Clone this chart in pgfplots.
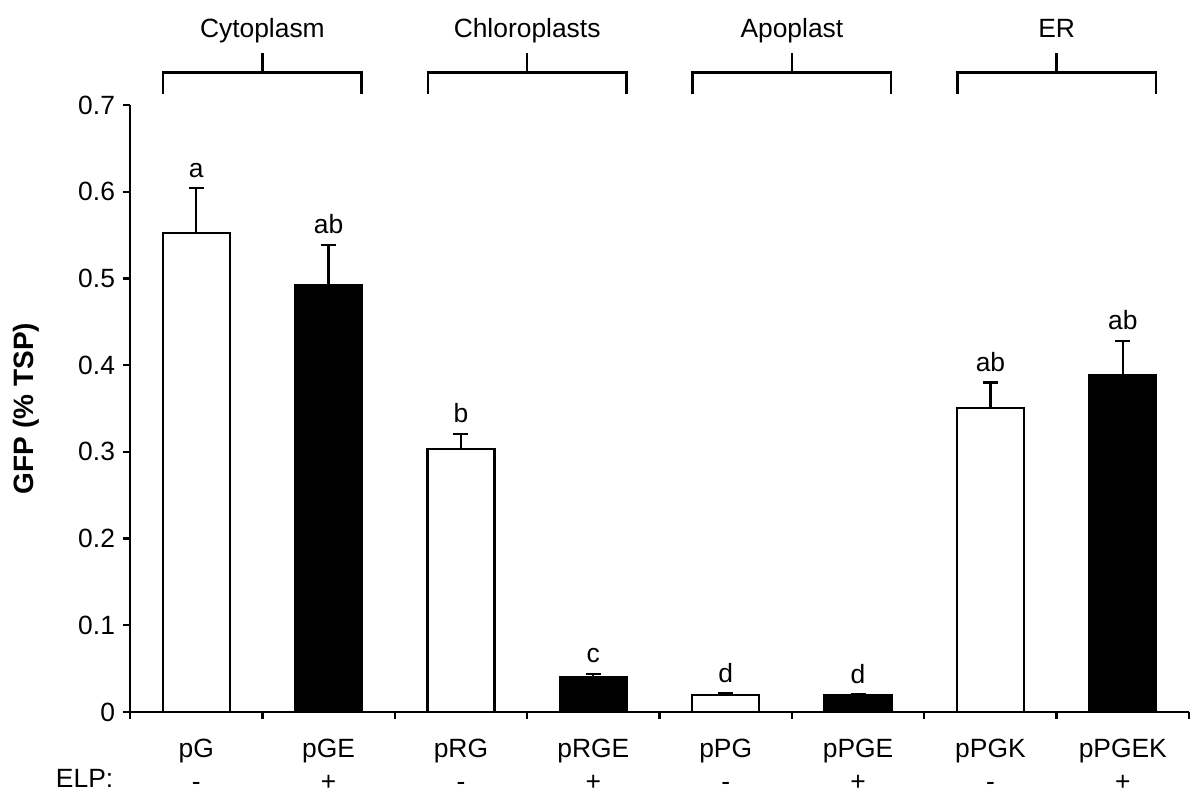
\documentclass[border=0pt]{standalone}
\usepackage{fontspec}
\setmainfont{Liberation Sans}
\usepackage{pgfplots}
\usepackage{pgfplotstable}
\pgfplotsset{compat=1.18}

% GFP yield, without ELP (white) and with ELP (black)
\pgfplotstableread{
x y err lab
1 0.552 0.052 a
3 0.303 0.018 b
5 0.020 0.0015 d
7 0.351 0.029 ab
}\noELP
\pgfplotstableread{
x y err lab
2 0.492 0.047 ab
4 0.040 0.004 c
6 0.019 0.0015 d
8 0.388 0.040 ab
}\withELP

\newcommand{\fs}{\fontsize{13.2}{16.5}\selectfont}
% bracket over a pair of bars: left, right, middle, name
\newcommand{\bracket}[4]{%
  \draw[line width=1.2pt] (axis cs:#1,0.7127) -- (axis cs:#1,0.7374)
    -- (axis cs:#2,0.7374) -- (axis cs:#2,0.7127);
  \draw[line width=1.2pt] (axis cs:#3,0.7374) -- (axis cs:#3,0.7604);
  \node[font=\fs, anchor=base, inner sep=0pt] at (axis cs:#3,0.7773) {#4};}

\begin{document}
\begin{tikzpicture}
  \useasboundingbox (-65pt,-44.5pt) rectangle (535pt,356pt);
  \begin{axis}[
      scale only axis,
      width=529.5pt, height=303.5pt,
      xmin=0.5, xmax=8.5,
      ymin=0, ymax=0.7,
      axis x line*=bottom, axis y line*=left,
      axis line style={line width=1.3pt},
      tick align=outside,
      major tick length=3.5pt, minor tick length=3.5pt,
      tick style={line width=1.2pt, black},
      ytick={0,0.1,...,0.7},
      yticklabel style={/pgf/number format/fixed, /pgf/number format/precision=1,
        /pgf/number format/assume math mode=true, font=\fs, xshift=-0.5pt},
      xtick={1,...,8},
      major x tick style={draw=none},
      minor xtick={0.5,1.5,...,8.5},
      xticklabels={{pG\\-},{pGE\\+},{pRG\\-},{pRGE\\+},{pPG\\-},{pPGE\\+},{pPGK\\-},{pPGEK\\+}},
      xticklabel style={align=center, font=\fs, anchor=north, inner sep=0pt, yshift=-10pt},
      ybar, bar width=33.5pt, bar shift=0pt,
      clip=false,
    ]
    \addplot[draw=black, fill=white, line width=1.1pt,
      error bars/.cd, y dir=plus, y explicit,
      error bar style={line width=1.1pt, black},
      error mark options={rotate=90, mark size=3.75pt, line width=1.1pt, black}]
      table[x=x, y=y, y error=err] {\noELP};
    \addplot[draw=black, fill=black, line width=1.1pt,
      error bars/.cd, y dir=plus, y explicit,
      error bar style={line width=1.1pt, black},
      error mark options={rotate=90, mark size=3.75pt, line width=1.1pt, black}]
      table[x=x, y=y, y error=err] {\withELP};

    % significance letters above the error bars
    \addplot[only marks, mark=none, nodes near coords, point meta=explicit symbolic,
      every node near coord/.append style={font=\fs, anchor=base, inner sep=0pt, yshift=5.5pt}]
      table[x=x, y expr=\thisrow{y}+\thisrow{err}, meta=lab] {\noELP};
    \addplot[only marks, mark=none, nodes near coords, point meta=explicit symbolic,
      every node near coord/.append style={font=\fs, anchor=base, inner sep=0pt, yshift=5.5pt}]
      table[x=x, y expr=\thisrow{y}+\thisrow{err}, meta=lab] {\withELP};

    % compartment brackets
    \bracket{0.75}{2.25}{1.5}{Cytoplasm}
    \bracket{2.75}{4.25}{3.5}{Chloroplasts}
    \bracket{4.75}{6.25}{5.5}{Apoplast}
    \bracket{6.75}{8.25}{7.5}{ER}
  \end{axis}
  \node[font=\fs, anchor=base, inner sep=0pt] at (-22.7pt,-38pt) {ELP:};
  \node[font=\fontsize{14}{16}\selectfont\bfseries, rotate=90, inner sep=0pt] at (-52pt,151.75pt) {GFP (\% TSP)};
\end{tikzpicture}
\end{document}
